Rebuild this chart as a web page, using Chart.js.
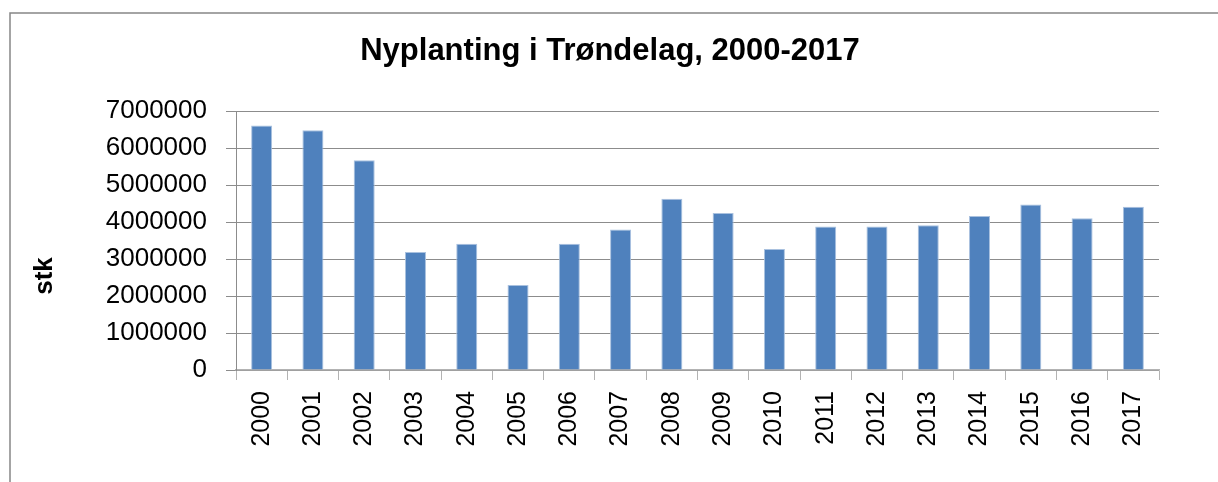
<!DOCTYPE html>
<html>
<head>
<meta charset="utf-8">
<script src="https://cdn.jsdelivr.net/npm/chart.js@4"></script>
<style>
  body { margin: 0; background: #fff; }
  #wrap { width: 1218px; height: 482px; position: relative; }
</style>
</head>
<body>
<div id="wrap"><canvas id="myChart"></canvas></div>
<script>
// DATA
const years = ['2000', '2001', '2002', '2003', '2004', '2005', '2006', '2007', '2008',
               '2009', '2010', '2011', '2012', '2013', '2014', '2015', '2016', '2017'];
const planted = [6610000, 6480000, 5670000, 3190000, 3410000, 2300000, 3410000, 3800000, 4630000,
                 4240000, 3270000, 3880000, 3880000, 3910000, 4160000, 4470000, 4100000, 4410000];
const yTicks = [0, 1000000, 2000000, 3000000, 4000000, 5000000, 6000000, 7000000];
const chartTitle = 'Nyplanting i Trøndelag, 2000-2017';
const yTitle = 'stk';

// frame round the chart, title centred on the whole frame, rotated y title
const extras = {
  id: 'extras',
  beforeDraw(chart) {
    const ctx = chart.ctx;
    ctx.save();
    ctx.strokeStyle = '#868686';
    ctx.lineWidth = 1.5;
    ctx.beginPath();
    ctx.moveTo(10, 482);
    ctx.lineTo(10, 13);
    ctx.lineTo(1218, 13);
    ctx.stroke();
    ctx.restore();
  },
  afterDraw(chart) {
    const ctx = chart.ctx;
    ctx.save();
    ctx.fillStyle = '#000';
    ctx.textAlign = 'center';
    ctx.textBaseline = 'middle';
    ctx.font = 'bold 31px "Liberation Sans", Arial, sans-serif';
    ctx.fillText(chartTitle, 610, 51);
    ctx.translate(45, 276);
    ctx.rotate(-Math.PI / 2);
    ctx.font = 'bold 26px "Liberation Sans", Arial, sans-serif';
    ctx.fillText(yTitle, 0, 0);
    ctx.restore();
  }
};

//SETUP
const data = {
  labels: years,
  datasets: [{
    label: 'stk',
    data: planted,
    backgroundColor: '#4F81BD',
    borderColor: '#A9C1DF',
    borderWidth: 1,
    categoryPercentage: 1,
    barPercentage: 0.41
  }]
};

//CONFIG
const config = {
  type: 'bar',
  data,
  options: {
    responsive: true,
    maintainAspectRatio: false,
    animation: false,
    layout: { padding: { left: 27, right: 59, top: 111, bottom: 0 } },
    plugins: {
      legend: { display: false },
      tooltip: { enabled: false },
      title: { display: false }
    },
    scales: {
      x: {
        afterFit(s) { s.height = 112; },
        grid: {
          drawOnChartArea: false,
          drawTicks: true,
          tickLength: 10,
          color: '#B3B3B3',
          offset: true
        },
        border: { color: '#B3B3B3', width: 1.5 },
        ticks: {
          autoSkip: false,
          minRotation: 90,
          maxRotation: 90,
          padding: 11,
          color: '#000',
          font: { family: '"Liberation Sans", Arial, sans-serif', size: 25 }
        }
      },
      y: {
        min: 0,
        max: 7000000,
        afterFit(s) { s.width = 236 - 27; },
        afterBuildTicks(s) { s.ticks = yTicks.map(v => ({ value: v })); },
        grid: {
          color: '#8C8C8C',
          drawTicks: true,
          tickLength: 10
        },
        border: { color: '#8C8C8C', width: 1 },
        ticks: {
          padding: 19,
          color: '#000',
          font: { family: '"Liberation Sans", Arial, sans-serif', size: 26 },
          callback: v => String(v)
        }
      }
    }
  },
  plugins: [extras]
};

//RENDER
let myChart = new Chart(
  document.getElementById('myChart'),
  config
);
</script>
</body>
</html>
